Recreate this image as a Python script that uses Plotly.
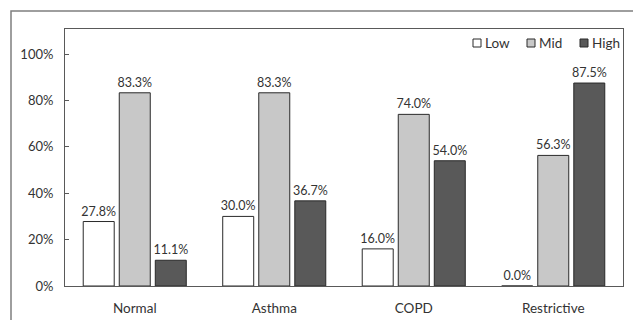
import plotly.graph_objects as go

categories = ["Normal", "Asthma", "COPD", "Restrictive"]
low = [0.278, 0.300, 0.160, 0.000]
mid = [0.833, 0.833, 0.740, 0.563]
high = [0.111, 0.367, 0.540, 0.875]
series_names = ["Low", "Mid", "High"]
y_ticks = [0, 0.2, 0.4, 0.6, 0.8, 1.0]
y_tick_labels = ["0%", "20%", "40%", "60%", "80%", "100%"]

colors = ["#ffffff", "#c8c8c8", "#595959"]
FONT = "Lato, Open Sans, sans-serif"
TXT = "#333333"

L, R, T, B = 65, 10, 29, 34
W, H = 633, 320
PW, PH = W - L - R, H - T - B


def px_x(px):
    return (px - L) / PW


def px_y(py):
    return (H - B - py) / PH


fig = go.Figure()
for name, vals, col in zip(series_names, [low, mid, high], colors):
    fig.add_trace(go.Bar(
        name=name, x=categories, y=vals,
        marker=dict(color=col, line=dict(color="#2a2a2a", width=1)),
        texttemplate="%{y:.1%}", textposition="outside", constraintext="none",
        textfont=dict(family=FONT, size=12.5, color=TXT),
        cliponaxis=False, showlegend=False,
    ))

# custom legend (squares + labels) in the top-right of the plot box
shapes = [dict(type="rect", xref="paper", yref="paper",
               x0=px_x(11), x1=1.1, y0=-0.3, y1=px_y(11),
               line=dict(color="#7f7f7f", width=1.5), layer="below")]
annotations = []
legend_x = [473, 527, 580]
for name, col, lx in zip(series_names, colors, legend_x):
    shapes.append(dict(type="rect", xref="paper", yref="paper",
                       x0=px_x(lx), x1=px_x(lx + 8), y0=px_y(47), y1=px_y(39),
                       fillcolor=col, line=dict(color="#2a2a2a", width=1)))
    annotations.append(dict(xref="paper", yref="paper", x=px_x(lx + 10), y=px_y(43),
                            text=name, showarrow=False, xanchor="left", yanchor="middle",
                            font=dict(family=FONT, size=13.5, color=TXT)))

fig.update_layout(
    width=W, height=H,
    margin=dict(l=L, r=R, t=T, b=B, autoexpand=False),
    paper_bgcolor="white", plot_bgcolor="white",
    barmode="group", bargap=0.225, bargroupgap=0.14,
    font=dict(family=FONT, size=13, color=TXT),
    showlegend=False,
    xaxis=dict(showline=True, linecolor="#595959", linewidth=1, mirror=True,
               ticks="", tickfont=dict(family=FONT, size=13.5, color=TXT),
               showgrid=False, ticklabelstandoff=10, automargin=False),
    yaxis=dict(range=[0, 1.108], tickvals=y_ticks, ticktext=y_tick_labels,
               showline=True, linecolor="#595959", linewidth=1, mirror=True,
               ticks="inside", ticklen=4, tickcolor="#595959",
               showgrid=False, zeroline=False,
               tickfont=dict(family=FONT, size=13, color=TXT),
               ticklabelstandoff=8, automargin=False),
    shapes=shapes,
    annotations=annotations,
)

fig.write_html("out.html", config={"displayModeBar": False},
               post_script="document.body.style.margin='0';document.body.style.overflow='hidden';")
